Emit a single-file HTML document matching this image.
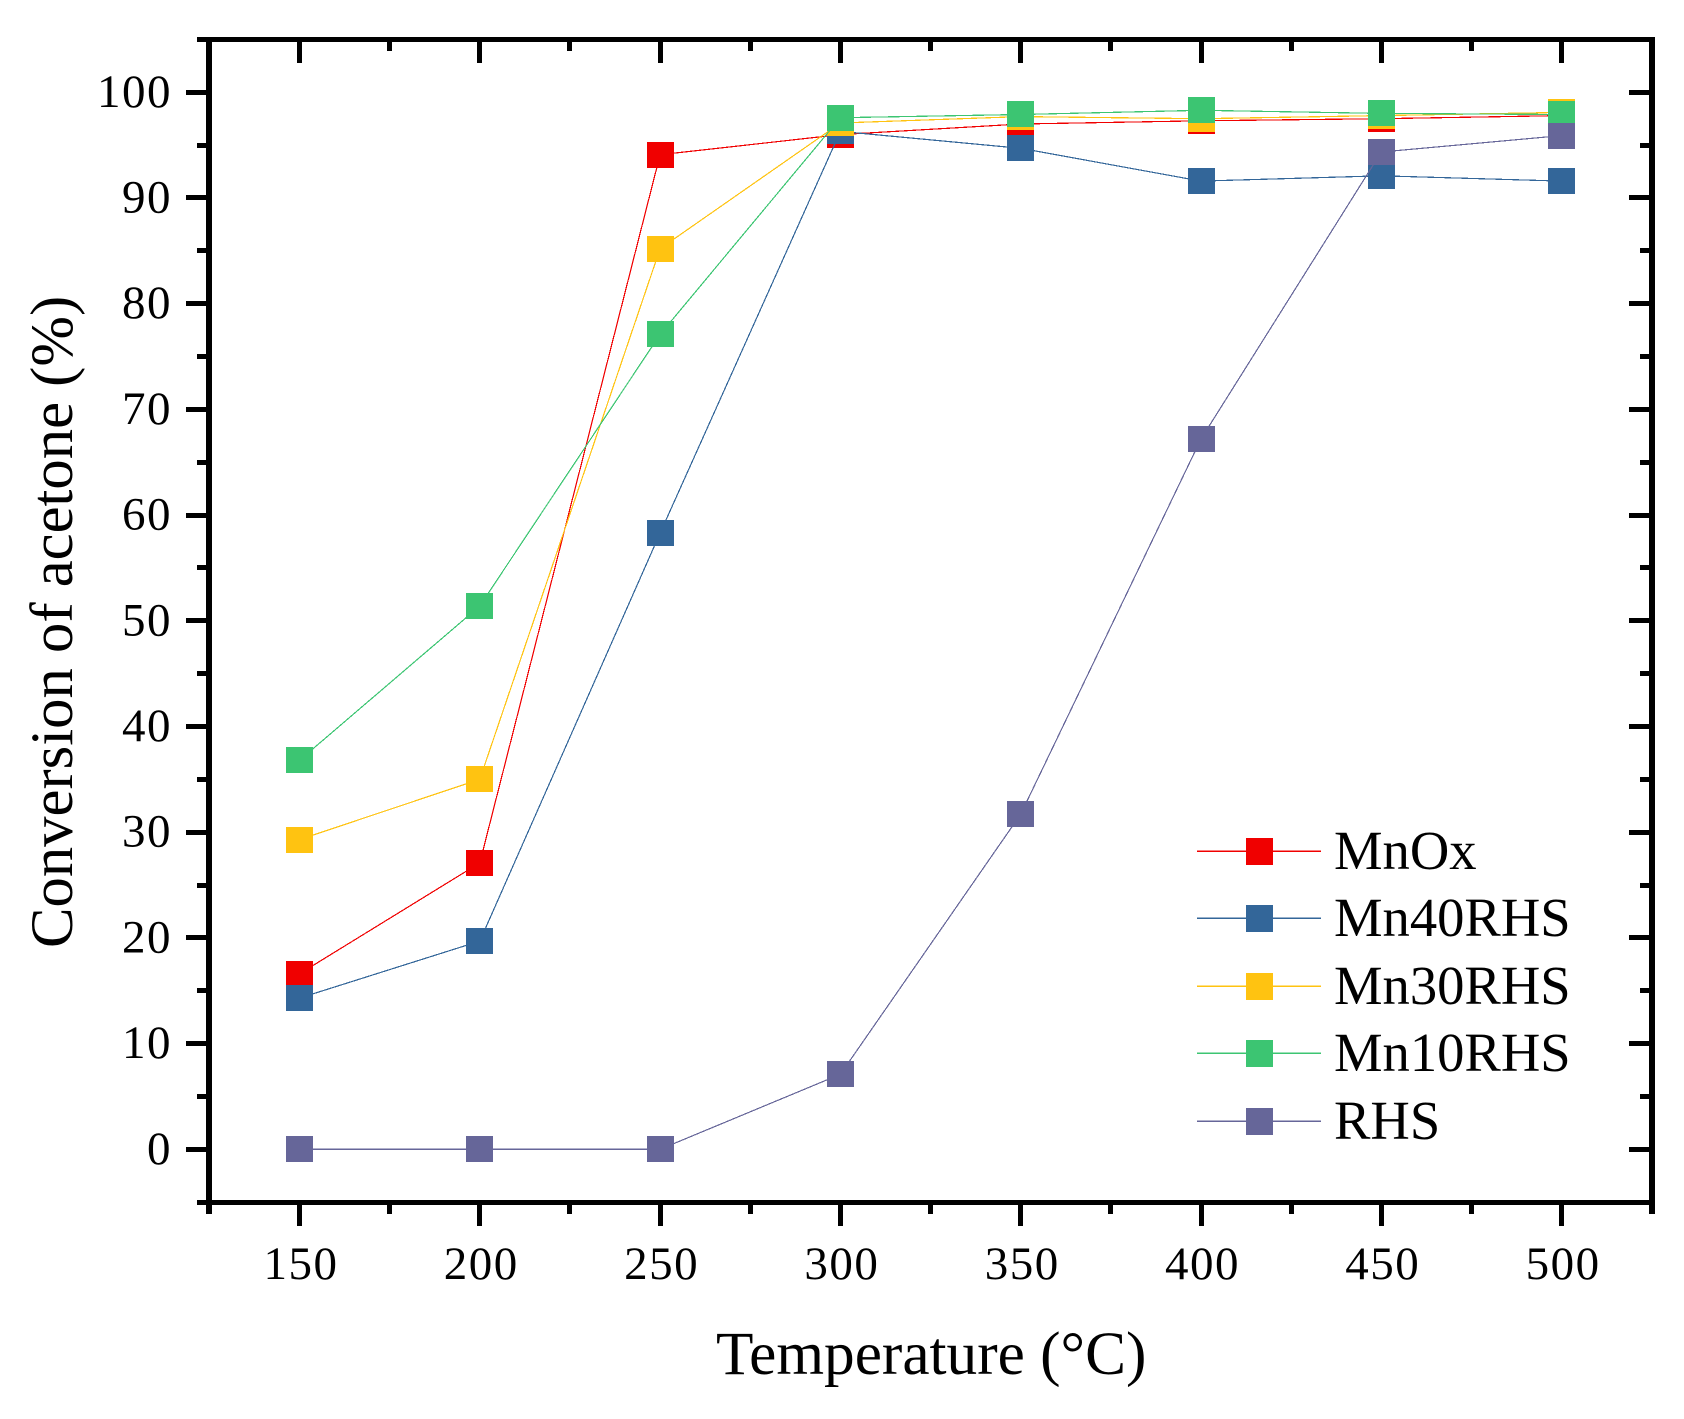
<!DOCTYPE html>
<html lang="en">
<head>
<meta charset="utf-8">
<title>Conversion of acetone vs temperature</title>
<style>
html,body{margin:0;padding:0;background:#fff;}
svg{display:block;}
text{font-family:"Liberation Serif",serif;fill:#000;}
</style>
</head>
<body>
<svg id="chart" xmlns="http://www.w3.org/2000/svg" width="1684" height="1419" viewBox="0 0 1684 1419">
<rect x="0" y="0" width="1684" height="1419" fill="#ffffff"/>
<g id="marks"></g>
<g id="axes" shape-rendering="crispEdges"></g>
<g id="labels"></g>
<g id="legend"></g>
<text x="716" y="1374" font-size="61.3">Temperature (°C)</text>
<text transform="translate(72,948) rotate(-90)" font-size="60.7">Conversion of acetone (%)</text>
</svg>
<script>
var temperatures = [150, 200, 250, 300, 350, 400, 450, 500];
var mnOx = [16.6, 27.1, 94.1, 96.0, 97.0, 97.3, 97.5, 97.8];
var mn40 = [14.3, 19.7, 58.3, 96.3, 94.7, 91.6, 92.1, 91.6];
var mn30 = [29.3, 35.0, 85.2, 97.1, 97.7, 97.5, 97.8, 98.1];
var mn10 = [36.8, 51.4, 77.1, 97.6, 97.9, 98.3, 98.0, 97.9];
var rhs = [0, 0, 0, 7.1, 31.7, 67.2, 94.35, 95.9];
var seriesNames = ['MnOx', 'Mn40RHS', 'Mn30RHS', 'Mn10RHS', 'RHS'];
var seriesColors = ['#F00000', '#336699', '#FFC311', '#3CC572', '#666699'];
var seriesValues = [mnOx, mn40, mn30, mn10, rhs];
var xMajorTicks = [150, 200, 250, 300, 350, 400, 450, 500];
var xMinorTicks = [125, 175, 225, 275, 325, 375, 425, 475, 525];
var yMajorTicks = [0, 10, 20, 30, 40, 50, 60, 70, 80, 90, 100];
var yMinorTicks = [-5, 5, 15, 25, 35, 45, 55, 65, 75, 85, 95, 105];

var NS = 'http://www.w3.org/2000/svg';
function xs(v){ return 299.5 + (v - 150) * 3.606; }
function ys(v){ return 1149.3 - v * 10.57; }
function make(tag, attrs, parent){
  var el = document.createElementNS(NS, tag);
  for (var k in attrs) el.setAttribute(k, attrs[k]);
  parent.appendChild(el);
  return el;
}
function slug(s){ return s.toLowerCase(); }

var marks = document.getElementById('marks');
seriesValues.forEach(function(vals, i){
  var g = make('g', {}, marks);
  
  
  var pts = vals.map(function(v, j){ return xs(temperatures[j]).toFixed(1) + ',' + ys(v).toFixed(1); }).join(' ');
  var line = make('polyline', {points: pts, fill: 'none', stroke: seriesColors[i], 'stroke-width': 1.2, 'shape-rendering': 'crispEdges'}, g);
  
  
  vals.forEach(function(v, j){
    var m = make('rect', {x: Math.round(xs(temperatures[j]) - 13.5), y: Math.round(ys(v) - 13), width: 27, height: 26, fill: seriesColors[i], 'shape-rendering': 'crispEdges'}, g);
    
    
  });
});

var axes = document.getElementById('axes');
function bar(x, y, w, h, name){
  var r = make('rect', {x: x, y: y, width: w, height: h, fill: '#000'}, axes);
  
  
}
bar(206, 37, 6, 1177, 'left-axis-line');
bar(1649, 37, 6, 1177, 'right-axis-line');
bar(197, 37, 1458, 5, 'top-axis-line');
bar(197, 1200, 1458, 5, 'bottom-axis-line');
xMajorTicks.forEach(function(v){
  var x = Math.round(xs(v) - 2.5);
  bar(x, 1200, 5, 26, 'x-major-tick-' + v);
  bar(x, 37, 5, 26, 'top-major-tick-' + v);
});
xMinorTicks.forEach(function(v){
  var x = Math.round(xs(v) - 2.5);
  bar(x, 1200, 5, 14, 'x-minor-tick-' + v);
  bar(x, 37, 5, 14, 'top-minor-tick-' + v);
});
yMajorTicks.forEach(function(v){
  var y = Math.round(ys(v) - 2.5);
  bar(186, y, 22, 5, 'y-major-tick-' + v);
  bar(1629, y, 22, 5, 'right-major-tick-' + v);
});
yMinorTicks.forEach(function(v){
  var y = Math.round(ys(v) - 2.5);
  bar(197, y, 11, 5, 'y-minor-tick-' + v);
  bar(1640, y, 11, 5, 'right-minor-tick-' + v);
});

var labels = document.getElementById('labels');
xMajorTicks.forEach(function(v){
  var t = make('text', {x: xs(v) + 1.5, y: 1279, 'font-size': 47, 'letter-spacing': 1.5, 'text-anchor': 'middle'}, labels);
  
  
  t.textContent = String(v);
});
yMajorTicks.forEach(function(v){
  var t = make('text', {x: 172, y: ys(v) + 14.5, 'font-size': 47, 'letter-spacing': 1.5, 'text-anchor': 'end'}, labels);
  
  
  t.textContent = String(v);
});

var legend = document.getElementById('legend');
var legendRowY = [851.3, 918.3, 986.3, 1053.3, 1121.3];
seriesNames.forEach(function(name, i){
  var g = make('g', {}, legend);
  
  
  var y = legendRowY[i];
  var l = make('line', {x1: 1197, x2: 1321, y1: y, y2: y, stroke: seriesColors[i], 'stroke-width': 1.2, 'shape-rendering': 'crispEdges'}, g);
  
  
  var m = make('rect', {x: 1246, y: Math.round(y - 13.3), width: 27, height: 27, fill: seriesColors[i], 'shape-rendering': 'crispEdges'}, g);
  
  
  var t = make('text', {x: 1334, y: y + 17.5, 'font-size': 54.6}, g);
  
  
  t.textContent = name;
});
</script>
</body>
</html>
